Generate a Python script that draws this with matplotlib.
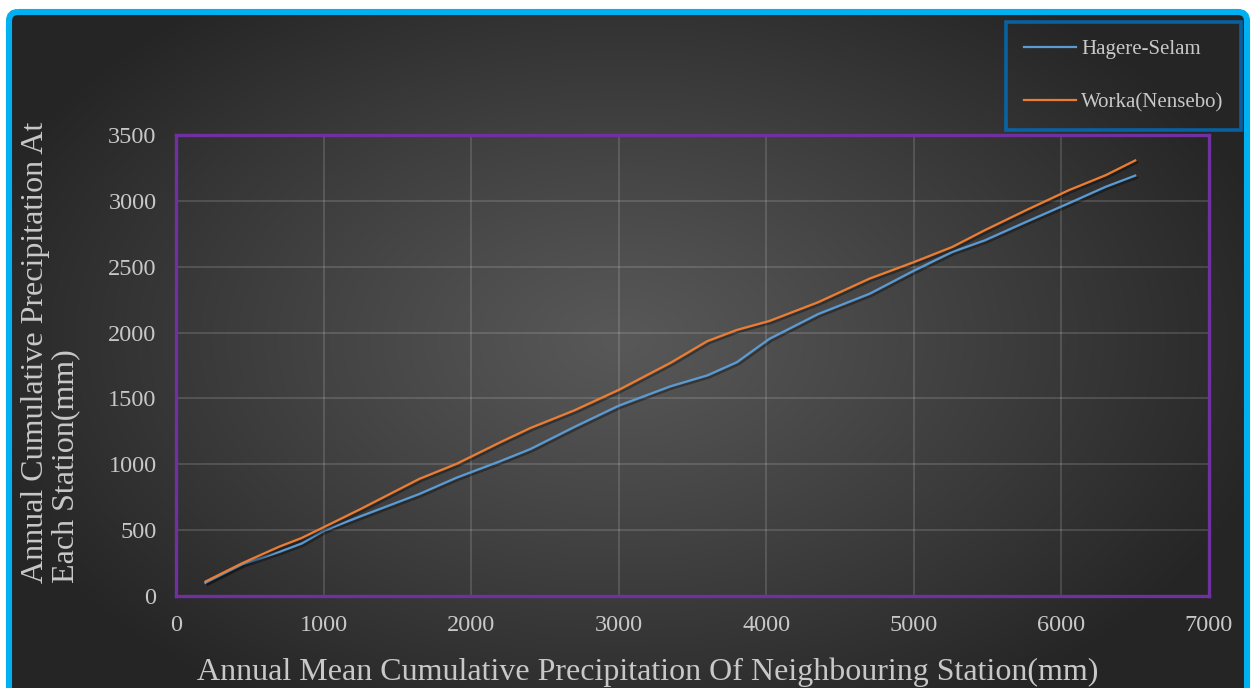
import numpy as np
import matplotlib
matplotlib.use("Agg")
import matplotlib.pyplot as plt
from matplotlib.patches import FancyBboxPatch
import matplotlib.patheffects as pe

plt.rcParams['font.family'] = ['Liberation Serif', 'DejaVu Serif']

# Annual mean cumulative precipitation of neighbouring stations (mm)
mean_cumulative = [200, 450, 700, 850, 1000, 1250, 1650, 1900, 2200, 2400, 2700, 3000, 3350,
                   3600, 3800, 4020, 4350, 4700, 5000, 5260, 5480, 5760, 6050, 6300, 6500]
# Annual cumulative precipitation at each station (mm)
hagere_selam = [100, 240, 335, 398, 495, 605, 775, 898, 1025, 1115, 1284, 1445, 1592,
                1675, 1775, 1952, 2140, 2295, 2470, 2612, 2700, 2840, 2982, 3107, 3192]
worka_nensebo = [110, 250, 375, 440, 522, 660, 890, 1003, 1169, 1275, 1410, 1565, 1770,
                 1935, 2020, 2088, 2230, 2410, 2535, 2650, 2777, 2929, 3081, 3195, 3307]
series_names = ["Hagere-Selam", "Worka(Nensebo)"]
series_colors = ["#5B9BD5", "#ED7D31"]
x_ticks = [0, 1000, 2000, 3000, 4000, 5000, 6000, 7000]
y_ticks = [0, 500, 1000, 1500, 2000, 2500, 3000, 3500]

W, H = 1251, 688
fig = plt.figure(figsize=(W / 100, H / 100), dpi=100, facecolor="white")

# Background panel with a radial dark gradient and a cyan rounded frame
bg = fig.add_axes([0, 0, 1, 1])
bg.set_xlim(0, W)
bg.set_ylim(H, 0)
bg.axis("off")
yy, xx = np.mgrid[0:H, 0:W]
cx, cy, rx, ry = 620, 340, 680, 430
d = np.clip(np.sqrt(((xx - cx) / rx) ** 2 + ((yy - cy) / ry) ** 2), 0, 1)
inner, outer = 0x58 / 255, 0x25 / 255
shade = inner + (outer - inner) * d ** 1.1
img = np.dstack([shade, shade, shade])
im = bg.imshow(img, extent=(0, W, H, 0), aspect="auto", interpolation="bilinear")
frame = FancyBboxPatch((9, 12), 1238, 720, boxstyle="round,pad=0,rounding_size=9",
                       transform=bg.transData, facecolor="none",
                       edgecolor="#00B0F0", linewidth=4.4)
bg.add_patch(frame)
im.set_clip_path(frame)

# Plot area
ax = fig.add_axes([176 / W, (H - 596) / H, (1209 - 176) / W, (596 - 135) / H])
ax.set_facecolor("none")
ax.set_zorder(2)
shadow = [pe.SimpleLineShadow(offset=(1.5, -1.5), shadow_color="black", alpha=0.35),
          pe.Normal()]
for ys, name, col in zip([hagere_selam, worka_nensebo], series_names, series_colors):
    ax.plot(mean_cumulative, ys, color=col, lw=1.6, label=name,
            solid_joinstyle="round", path_effects=shadow)

ax.set_xlim(0, 7000)
ax.set_ylim(0, 3500)
ax.set_xticks(x_ticks)
ax.set_yticks(y_ticks)
ax.grid(True, color="#d9d9d9", alpha=0.2, lw=1.2)
ax.set_axisbelow(True)
ax.tick_params(length=0, labelsize=17.5, colors="#c8c8c8")
ax.tick_params(axis="y", pad=14)
ax.tick_params(axis="x", pad=14)
for sp in ax.spines.values():
    sp.set_color("#7030A0")
    sp.set_linewidth(2.4)

text_col = "#c8c8c8"
fig.text(648 / W, 8 / H, "Annual Mean Cumulative Precipitation Of Neighbouring Station(mm)",
         ha="center", va="baseline", fontsize=23, color=text_col)
fig.text(51 / W, (H - 583) / H, "Annual Cumulative Precipitation At\nEach Station(mm)",
         rotation=90, ha="center", va="bottom", multialignment="left",
         fontsize=23, color=text_col, linespacing=1.05)

handles, labels = ax.get_legend_handles_labels()
leg = fig.legend(handles, labels, loc="upper right",
                 bbox_to_anchor=(1241 / W, (H - 22) / H), fontsize=15,
                 frameon=True, fancybox=False, labelspacing=1.6, handlelength=2.5,
                 handletextpad=0.25, borderpad=0.85, borderaxespad=0)
leg.get_frame().set_edgecolor("#0070C0")
leg.get_frame().set_linewidth(2.6)
leg.get_frame().set_facecolor("none")
for t in leg.get_texts():
    t.set_color(text_col)
for lh in leg.get_lines():
    lh.set_path_effects([])
leg.set_zorder(5)

fig.savefig("out.png", dpi=100, facecolor="white")
